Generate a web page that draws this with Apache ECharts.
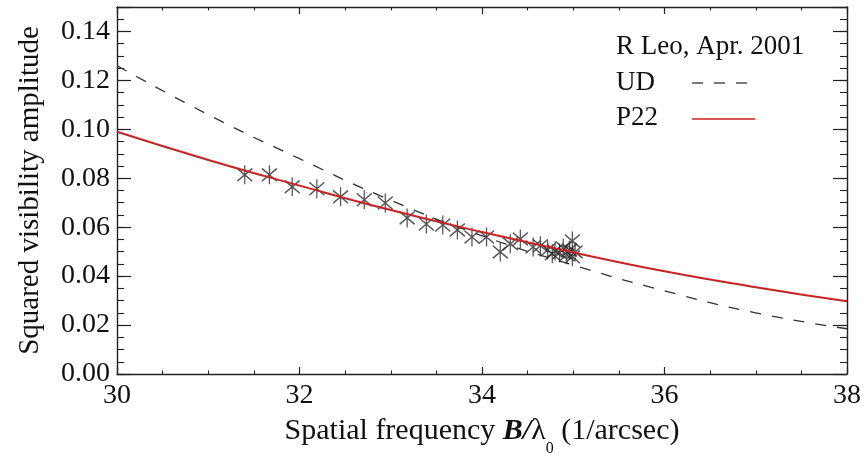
<!DOCTYPE html>
<html><head><meta charset="utf-8">
<script src="https://cdn.jsdelivr.net/npm/echarts@6/dist/echarts.min.js"></script>
<style>html,body{margin:0;padding:0;background:#fff}#c{width:864px;height:456px}</style>
</head><body><div id="c"></div>
<script>
// ---- data ----
const xTickValues = [30, 32, 34, 36, 38];
const yTickLabels = ['0.00', '0.02', '0.04', '0.06', '0.08', '0.10', '0.12', '0.14'];
const modelFreq = [30, 31, 32, 33, 34, 35, 36, 37, 38];
const udValues  = [0.126, 0.106, 0.088, 0.071, 0.0565, 0.0445, 0.034, 0.025, 0.0185];
const p22Values = [0.099, 0.0875, 0.077, 0.067, 0.058, 0.0497, 0.042, 0.0355, 0.0297];
const obsFreq = [31.40, 31.67, 31.92, 32.19, 32.45, 32.71, 32.94, 33.18, 33.39, 33.57, 33.73, 33.89,
                 34.05, 34.20, 34.31, 34.42, 34.56, 34.64, 34.72, 34.77, 34.80, 34.85, 34.89, 34.93,
                 34.96, 34.99, 34.99, 35.02];
const obsVis  = [0.0814, 0.0814, 0.0765, 0.0757, 0.0724, 0.0712, 0.0699, 0.0638, 0.0613, 0.0609, 0.0589, 0.0560,
                 0.0560, 0.0499, 0.0532, 0.0552, 0.0519, 0.0524, 0.0507, 0.0491, 0.0503, 0.0495, 0.0515, 0.0487,
                 0.0507, 0.0544, 0.0479, 0.0499];
const titleText = 'R Leo, Apr. 2001';
const seriesNames = ['UD', 'P22'];

// ---- chart ----
const FONT = 'Liberation Serif';
const AX = '#222';
const TXT = '#111';
const RED = '#cc2222';
const chart = echarts.init(document.getElementById('c'), null, {renderer: 'canvas'});
const baseX = {
  type: 'value', min: 30, max: 38, interval: 2,
  axisLine: {show: true, onZero: false, lineStyle: {color: AX, width: 1.4}},
  axisTick: {show: true, inside: true, length: 7, lineStyle: {color: AX, width: 1.2}},
  minorTick: {show: true, splitNumber: 4, length: 3.5, lineStyle: {color: AX, width: 1.1}},
  splitLine: {show: false}, minorSplitLine: {show: false}
};
const baseY = {
  type: 'value', min: 0, max: 0.15, interval: 0.02,
  axisLine: {show: true, onZero: false, lineStyle: {color: AX, width: 1.4}},
  axisTick: {show: true, inside: true, length: 14, lineStyle: {color: AX, width: 1.2}},
  splitLine: {show: false}
};
const minorY = {
  type: 'value', min: 0, max: 0.15, interval: 0.005,
  axisLine: {show: false}, axisLabel: {show: false},
  axisTick: {show: true, inside: true, length: 7, lineStyle: {color: AX, width: 1.1}},
  splitLine: {show: false}
};
chart.setOption({
  backgroundColor: '#ffffff',
  animation: false,
  graphic: [
    {type: 'text', left: 616, top: 33, style: {text: titleText, font: '27px "Liberation Serif"', fill: TXT}},
    {type: 'text', left: 616, top: 69, style: {text: seriesNames[0], font: '27px "Liberation Serif"', fill: TXT}},
    {type: 'line', shape: {x1: 692, y1: 83, x2: 750, y2: 83}, style: {stroke: '#333', lineWidth: 1.3, lineDash: [11, 11]}},
    {type: 'text', left: 616, top: 104, style: {text: seriesNames[1], font: '27px "Liberation Serif"', fill: TXT}},
    {type: 'line', shape: {x1: 692, y1: 119, x2: 755, y2: 119}, style: {stroke: RED, lineWidth: 1.6}}
  ],
  grid: {left: 117, right: 17, top: 7, bottom: 82, containLabel: false, outerBoundsMode: 'none'},
  xAxis: [
    Object.assign({}, baseX, {
      position: 'bottom',
      axisLabel: {show: true, margin: 8, fontFamily: FONT, fontSize: 28, color: TXT,
                  formatter: v => xTickValues.includes(v) ? String(v) : ''},
      name: '{a|Spatial frequency }{b|B/}{a|λ}{s|0}{a| (1/arcsec)}',
      nameLocation: 'middle', nameGap: 42,
      nameTextStyle: {
        rich: {
          a: {fontFamily: FONT, fontSize: 30, color: TXT, lineHeight: 34, verticalAlign: 'top'},
          b: {fontFamily: FONT, fontSize: 30, color: TXT, fontWeight: 'bold', fontStyle: 'italic', lineHeight: 34, verticalAlign: 'top'},
          s: {fontFamily: FONT, fontSize: 16, color: TXT, lineHeight: 16, verticalAlign: 'top', padding: [25, 0, 0, 0]}
        }
      }
    }),
    Object.assign({}, baseX, {position: 'top', axisLabel: {show: false}})
  ],
  yAxis: [
    Object.assign({}, baseY, {
      position: 'left',
      axisLabel: {show: true, margin: 7, fontFamily: FONT, fontSize: 28, color: TXT,
                  formatter: v => { const k = Math.round(v / 0.02); return Math.abs(v - k * 0.02) < 1e-9 && k < yTickLabels.length ? yTickLabels[k] : ''; }},
      name: 'Squared visibility amplitude', nameLocation: 'middle', nameGap: 72,
      nameTextStyle: {fontFamily: FONT, fontSize: 29, color: TXT}
    }),
    Object.assign({}, baseY, {position: 'right', axisLabel: {show: false}}),
    Object.assign({}, minorY, {position: 'left'}),
    Object.assign({}, minorY, {position: 'right'})
  ],
  series: [
    {
      name: 'obs', type: 'scatter', xAxisIndex: 0, yAxisIndex: 0,
      symbol: 'path://M0,-9L0,9M-7,-6L7,6M-7,6L7,-6', symbolSize: [15, 19],
      itemStyle: {color: 'none', borderColor: '#2a2a2a', borderWidth: 1.4},
      data: obsFreq.map((x, i) => [x, obsVis[i]]), z: 2
    },
    {
      name: seriesNames[0], type: 'line', xAxisIndex: 0, yAxisIndex: 0, smooth: true, symbol: 'none',
      lineStyle: {color: '#333', width: 1.3, type: [11, 11]},
      data: modelFreq.map((x, i) => [x, udValues[i]]), z: 3
    },
    {
      name: seriesNames[1], type: 'line', xAxisIndex: 0, yAxisIndex: 0, smooth: true, symbol: 'none',
      lineStyle: {color: RED, width: 2},
      data: modelFreq.map((x, i) => [x, p22Values[i]]), z: 4
    }
  ]
});
</script>
</body></html>
